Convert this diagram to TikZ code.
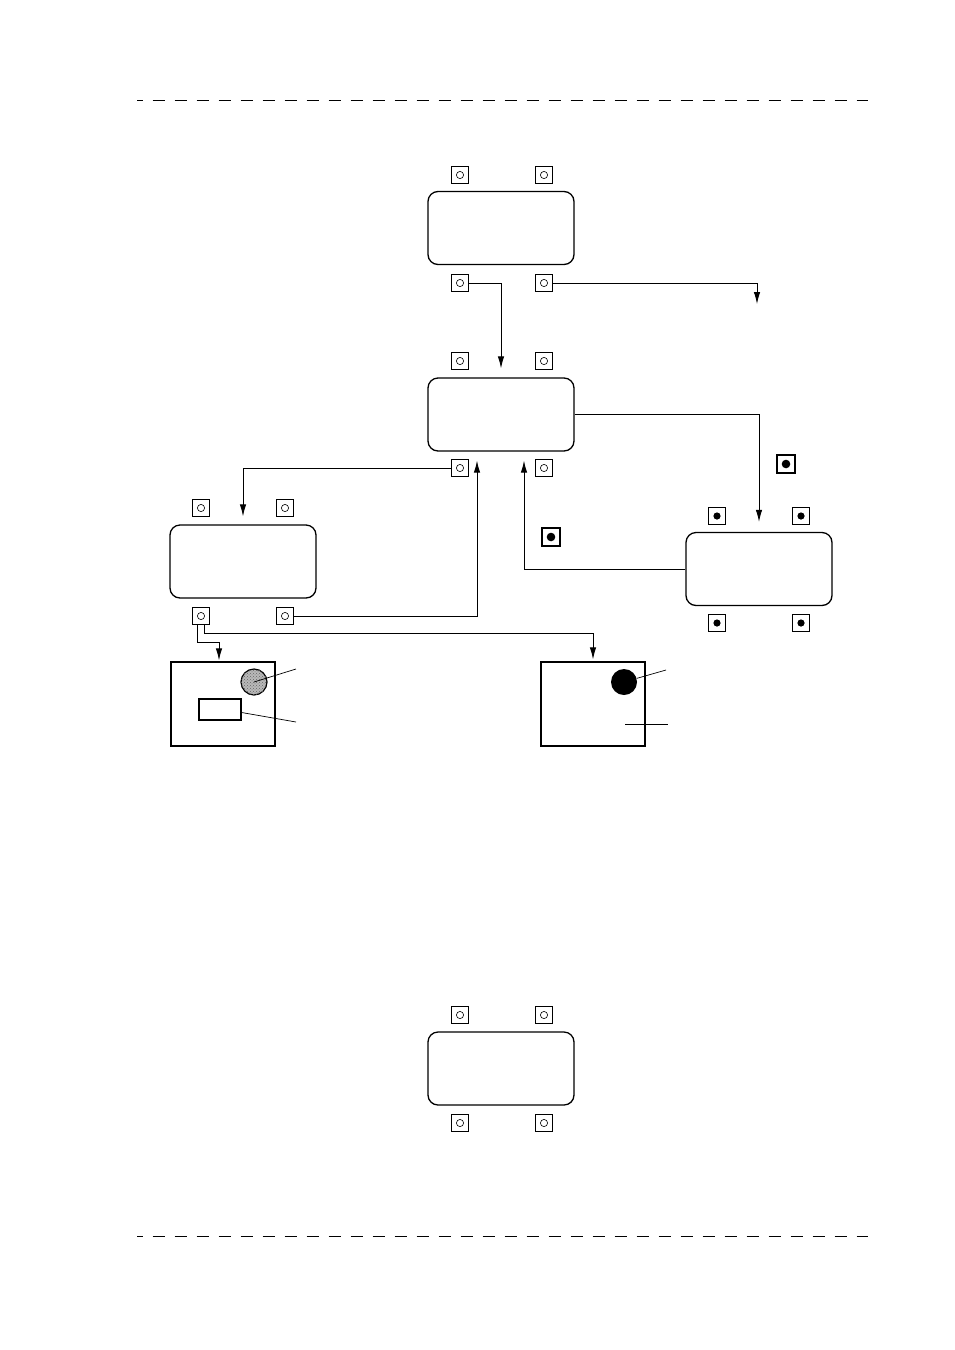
\documentclass[tikz,border=0pt]{standalone}
\usetikzlibrary{arrows.meta,patterns}
\begin{document}
\begin{tikzpicture}[x=1pt,y=-1pt,
  blk/.style={draw,rounded corners=10pt,line width=1.3pt,minimum width=146pt,minimum height=73pt,inner sep=0pt},
  portopen/.style={draw,line width=0.8pt,minimum size=17pt,inner sep=0pt,
    path picture={\draw[line width=0.6pt] (path picture bounding box.center) circle (3.6pt);}},
  portfull/.style={draw,line width=0.8pt,minimum size=17pt,inner sep=0pt,
    path picture={\fill (path picture bounding box.center) circle (3.6pt);}},
  portbig/.style={draw,line width=2pt,minimum size=18pt,inner sep=0pt,
    path picture={\fill (path picture bounding box.center) circle (4.3pt);}},
  pic/.style={draw,line width=1.3pt,minimum width=104pt,minimum height=84pt,inner sep=0pt},
  conn/.style={line width=0.9pt},
  arr/.style={conn,-{Latex[length=12pt,width=6.5pt]}},
  sep/.style={line width=1pt,dash pattern=on 12.7pt off 9.3pt,dash phase=6.3pt},
  lead/.style={line width=0.7pt}
]
\useasboundingbox (0,0) rectangle (954,1350);
% separators
\draw[sep] (137,100) coordinate (s1) -- (868,100) coordinate (s2);
\draw[sep] (137,1236) coordinate (s3) -- (868,1236) coordinate (s4);

% block A
\node[blk] (bA) at (501,228) {};
\node[portopen] (pA1) at (460,175) {};
\node[portopen] (pA2) at (544,175) {};
\node[portopen] (pA3) at (460,283) {};
\node[portopen] (pA4) at (544,283) {};

% block B
\node[blk] (bB) at (501,414.5) {};
\node[portopen] (pB1) at (460,361) {};
\node[portopen] (pB2) at (544,361) {};
\node[portopen] (pB3) at (460,468) {};
\node[portopen] (pB4) at (544,468) {};

% block C
\node[blk] (bC) at (243,561.5) {};
\node[portopen] (pC1) at (201,508) {};
\node[portopen] (pC2) at (285,508) {};
\node[portopen] (pC3) at (201,616) {};
\node[portopen] (pC4) at (285,616) {};

% block D
\node[blk] (bD) at (759,569) {};
\node[portfull] (pD1) at (717,516) {};
\node[portfull] (pD2) at (801,516) {};
\node[portfull] (pD3) at (717,623) {};
\node[portfull] (pD4) at (801,623) {};

% block E
\node[blk] (bE) at (501,1068.5) {};
\node[portopen] (pE1) at (460,1015) {};
\node[portopen] (pE2) at (544,1015) {};
\node[portopen] (pE3) at (460,1123) {};
\node[portopen] (pE4) at (544,1123) {};

% extra filled markers
\node[portbig] (x1) at (786,464) {};
\node[portbig] (x2) at (551,537) {};

% pictures
\node[pic] (fF) at (223,704) {};
\node[draw,circle,fill=gray!55,line width=1.2pt,minimum size=26pt,inner sep=0pt,
  postaction={pattern=crosshatch dots,pattern color=black!60}] (cF) at (254,682) {};
\node[draw,line width=1.2pt,minimum width=42pt,minimum height=21pt,inner sep=0pt] (rF) at (220,709.5) {};
\coordinate (lF1) at (296,669);
\coordinate (lF2) at (296,722);
\draw[lead] (cF.center) -- (lF1);
\draw[lead] ([yshift=-3pt]rF.east) -- (lF2);

\node[pic] (gG) at (593,704) {};
\node[circle,fill=black,minimum size=26pt,inner sep=0pt] (cG) at (624,682) {};
\coordinate (lG1) at (666,670);
\coordinate (lG2a) at (625,724);
\coordinate (lG2b) at (668,724);
\draw[lead] (cG) -- (lG1);
\draw[lead] (lG2a) -- (lG2b);

% connectors
\coordinate (o1) at (757,304);
\draw[arr] (pA3.east) -| ([yshift=9pt]bB.north);
\draw[arr] (pA4.east) -| (o1);
\draw[arr] (bB.east) -| ([yshift=10pt]bD.north);
\draw[arr] (pB3.west) -| ([yshift=8pt]bC.north);
\draw[arr] (pC4.east) -| ([xshift=-24pt,yshift=-9pt]bB.south);
\draw[arr] (bD.west) -| ([xshift=23pt,yshift=-9pt]bB.south);
\draw[arr] ([xshift=-4pt]pC3.south) -- ++(0,18) -| ([xshift=-4pt,yshift=1pt]fF.north);
\draw[arr] ([xshift=3pt]pC3.south) -- ++(0,9) -| ([yshift=2pt]gG.north);
\end{tikzpicture}
\end{document}
